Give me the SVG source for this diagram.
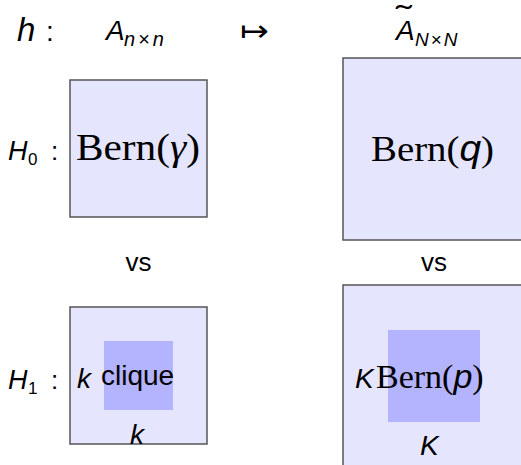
<svg xmlns="http://www.w3.org/2000/svg" width="521" height="465" viewBox="0 0 521 465">
<style>
.outer{fill:#e5e5fd;stroke:#555;stroke-width:1.5}
.inner{fill:#b3b3fe;stroke:none}
.si{font-family:"Liberation Sans",Arial,sans-serif;font-style:italic;fill:#000}
.s{font-family:"Liberation Sans",Arial,sans-serif;fill:#000}
.r{font-family:"Liberation Serif","Times New Roman",serif;fill:#000}
</style>
<rect width="521" height="465" fill="#fff"/>
<g id="header">
<text class="si" x="17" y="41" font-size="33">h</text>
<text class="s" x="46" y="41" font-size="28">:</text>
<text class="si" x="106" y="40" font-size="28">A</text>
<text class="si" x="124" y="46" font-size="20">n<tspan font-style="normal" dx="3">×</tspan><tspan dx="3">n</tspan></text>
<text x="0" y="0" font-size="30" font-weight="normal" font-family="DejaVu Sans,sans-serif" transform="translate(240,41) scale(1.15,1)">↦</text>
<text class="si" x="396" y="40" font-size="28">A</text>
<text class="s" x="0" y="0" font-size="30" transform="translate(396,26) scale(1.6,1)">˜</text>
<text class="si" x="415" y="46" font-size="19">N<tspan font-style="normal" dx="2">×</tspan><tspan dx="2">N</tspan></text>
</g>
<g id="h0-left">
<rect class="outer" x="70" y="80" width="137" height="137"/>
<text class="r" x="76" y="160" font-size="37" textLength="124" lengthAdjust="spacingAndGlyphs">Bern(<tspan font-style="italic">γ</tspan>)</text>
</g>
<g id="h0-label">
<text class="si" x="8" y="160" font-size="27">H</text>
<text class="s" x="28" y="165" font-size="17">0</text>
<text class="s" x="51" y="160" font-size="26">:</text>
</g>
<g id="h0-right">
<rect class="outer" x="343" y="58" width="182" height="182"/>
<text class="r" x="371" y="161" font-size="36" textLength="123" lengthAdjust="spacingAndGlyphs">Bern(<tspan class="si">q</tspan>)</text>
</g>
<g id="vs-left"><text class="s" x="138.5" y="271" font-size="26" text-anchor="middle">vs</text></g>
<g id="vs-right"><text class="s" x="434" y="271" font-size="26" text-anchor="middle">vs</text></g>
<g id="h1-left">
<rect class="outer" x="70" y="307" width="137" height="137"/>
<rect class="inner" x="104" y="341" width="69" height="69"/>
<text class="s" x="101" y="385" font-size="28">clique</text>
<text class="si" x="77" y="388" font-size="28">k</text>
<text class="si" x="130" y="444" font-size="28">k</text>
</g>
<g id="h1-label">
<text class="si" x="8" y="389" font-size="27">H</text>
<text class="s" x="28" y="394" font-size="17">1</text>
<text class="s" x="51" y="389" font-size="26">:</text>
</g>
<g id="h1-right">
<rect class="outer" x="343" y="285" width="182" height="182"/>
<rect class="inner" x="388" y="330" width="92" height="92"/>
<text class="si" x="355" y="388" font-size="28">K</text>
<text class="r" x="376" y="388" font-size="34">Bern(<tspan class="si">p</tspan>)</text>
<text class="si" x="420" y="455" font-size="28">K</text>
</g>
<g id="connectors"></g>
</svg>
